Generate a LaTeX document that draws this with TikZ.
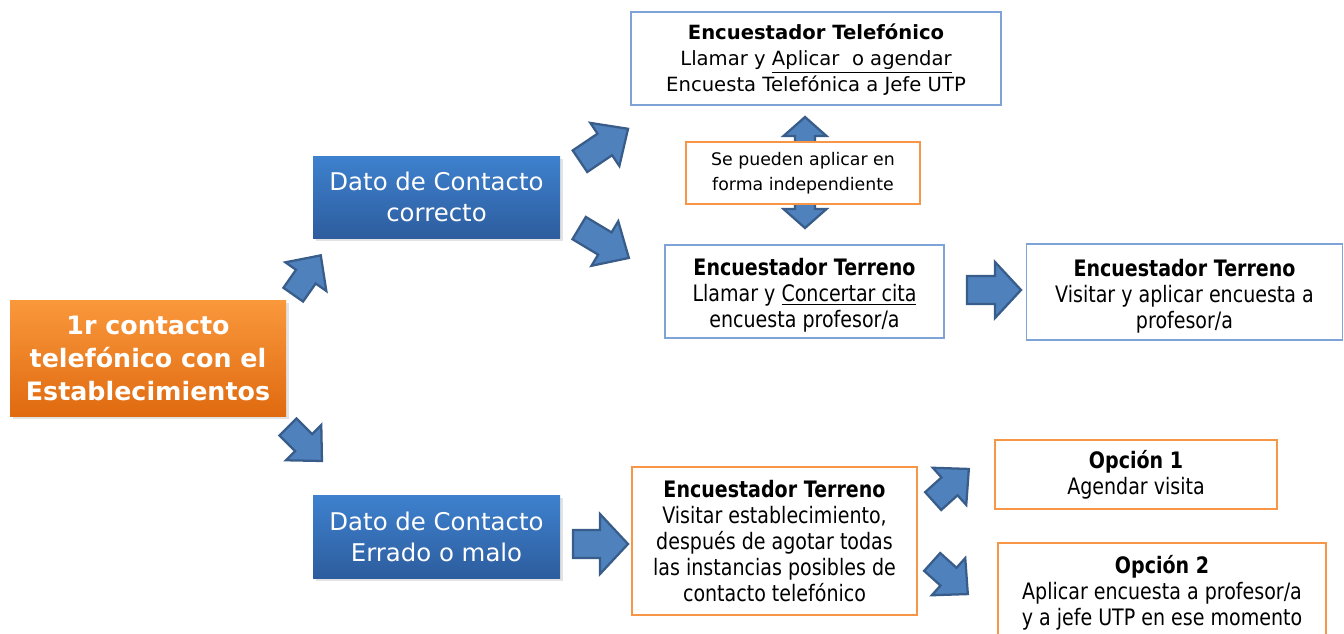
\documentclass[tikz,border=0pt]{standalone}
\usepackage{fontspec}
\setmainfont{DejaVu Sans}
\newfontfamily\cond{DejaVu Sans}[FakeStretch=0.84]
\usetikzlibrary{shadows}
\definecolor{bordblue}{RGB}{126,163,214}
\definecolor{bordorange}{RGB}{247,150,70}
\definecolor{arrfill}{RGB}{79,129,189}
\definecolor{arrdraw}{RGB}{56,93,138}
\definecolor{orgtop}{RGB}{250,152,60}
\definecolor{orgbot}{RGB}{224,106,16}
\definecolor{blutop}{RGB}{62,129,206}
\definecolor{blubot}{RGB}{45,93,158}
\tikzset{
 box/.style={draw, fill=white, line width=1.1pt, inner sep=0pt, align=center, text=black},
 bluebox/.style={box, draw=bordblue},
 orgbox/.style={box, draw=bordorange},
 telfont/.style={font=\fontsize{14.7}{19.5}\selectfont},
 condfont/.style={font=\cond\fontsize{17}{19.5}\selectfont},
 smallfont/.style={font=\fontsize{13}{18.75}\selectfont},
 barrow/.style={fill=arrfill, draw=arrdraw, line width=1.7pt, line join=miter},
 shadedbox/.style={inner sep=0pt, align=center, text=white,
   drop shadow={shadow xshift=2pt, shadow yshift=-2.5pt, opacity=0.22}},
 orangemain/.style={shadedbox, top color=orgtop, bottom color=orgbot,
   font=\bfseries\fontsize{19}{24.75}\selectfont},
 bluemain/.style={shadedbox, top color=blutop, bottom color=blubot,
   font=\fontsize{18.3}{23.3}\selectfont},
}
% center x, center y, angle, length, shaft width, head width, head length
\newcommand{\blkarrow}[7]{%
 \pgfmathsetmacro\bL{#4/2}\pgfmathsetmacro\bs{#5/2}%
 \pgfmathsetmacro\bh{#6/2}\pgfmathsetmacro\bb{#4/2-#7}%
 \draw[barrow, shift={(#1,#2)}, rotate=#3] (-\bL,-\bs) -- (\bb,-\bs) -- (\bb,-\bh)
   -- (\bL,0) -- (\bb,\bh) -- (\bb,\bs) -- (-\bL,\bs) -- cycle;}
\begin{document}
\begin{tikzpicture}[x=0.75pt,y=-0.75pt]
\useasboundingbox (0,0) rectangle (1344,633);
\clip (0,0) rectangle (1344,633);

% block arrows
\blkarrow{307}{275}{55}{48}{24}{50}{26}
\blkarrow{305}{444}{-45}{48}{24}{50}{26}
\blkarrow{604}{145}{34}{58}{26}{52}{28}
\blkarrow{604}{243}{-31}{58}{26}{52}{28}
\blkarrow{951}{485}{42}{48}{24}{50}{26}
\blkarrow{950}{578}{-42}{48}{24}{50}{26}
\blkarrow{994}{290}{0}{54}{28}{56}{26}
\blkarrow{600.5}{544}{0}{55}{28}{60}{28}
\draw[barrow] (805,117) -- (826.5,136) -- (815,136) -- (815,209) -- (826.5,209)
  -- (805,228) -- (783.5,209) -- (795,209) -- (795,136) -- (783.5,136) -- cycle;

% nodes
\node[orangemain, minimum width=207pt, minimum height=87pt] (main) at (148,358)
  {1r contacto\\telefónico con el\\Establecimientos};
\node[bluemain, minimum width=185.25pt, minimum height=61.5pt] (ok) at (436.5,197)
  {Dato de Contacto\\correcto};
\node[bluemain, minimum width=185.25pt, minimum height=62.25pt] (bad) at (436.5,536.5)
  {Dato de Contacto\\Errado o malo};
\node[bluebox, telfont, minimum width=277.5pt, minimum height=69.75pt] (tel) at (816,58.5)
  {\rule{0pt}{14pt}\textbf{Encuestador Telefónico}\\Llamar y \underline{Aplicar\ \ o agendar}\\Encuesta Telefónica a Jefe UTP};
\node[orgbox, smallfont, minimum width=175.5pt, minimum height=46.5pt] (indep) at (803,173)
  {Se pueden aplicar en\\forma independiente};
\node[bluebox, condfont, minimum width=209.25pt, minimum height=69.75pt] (terr1) at (804.5,291.5)
  {\rule{0pt}{19pt}\textbf{Encuestador Terreno}\\Llamar y \underline{Concertar cita}\\encuesta profesor/a};
\node[bluebox, condfont, minimum width=237pt, minimum height=72pt] (terr2) at (1184.5,292)
  {\rule{0pt}{19pt}\textbf{Encuestador Terreno}\\Visitar y aplicar encuesta a\\profesor/a};
\node[orgbox, condfont, minimum width=213.75pt, minimum height=111pt] (terr3) at (774.5,541)
  {\textbf{Encuestador Terreno}\\Visitar establecimiento,\\después de agotar todas\\las instancias posibles de\\contacto telefónico};
\node[orgbox, condfont, minimum width=211.5pt, minimum height=51.75pt] (op1) at (1136,474.5)
  {\textbf{Opción 1}\\Agendar visita};
\node[orgbox, condfont, minimum width=246pt, minimum height=75pt] (op2) at (1162,593)
  {\textbf{Opción 2}\\Aplicar encuesta a profesor/a\\y a jefe UTP en ese momento};
\end{tikzpicture}
\end{document}
